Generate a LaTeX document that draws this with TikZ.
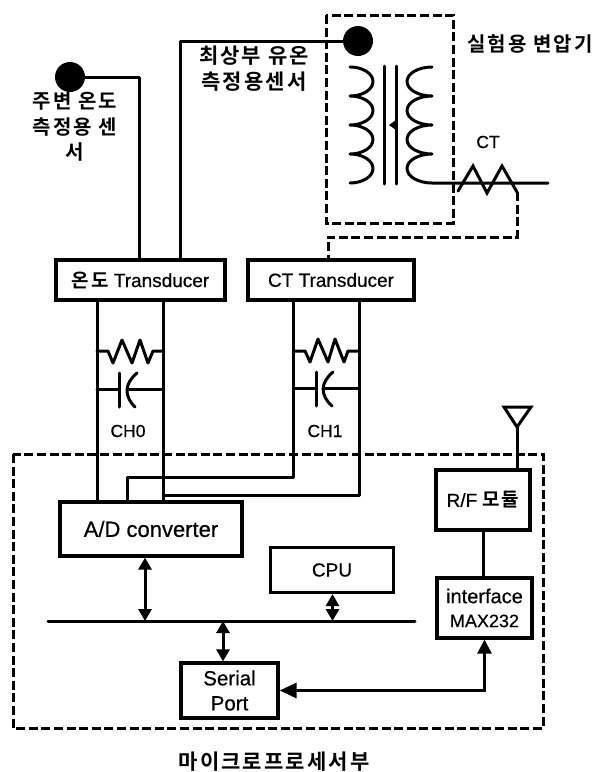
\documentclass[tikz,border=0pt]{standalone}
\usepackage{fontspec}
\setmainfont[RawFeature={embolden=0.5}]{Liberation Sans}
\newfontfamily\kr[BoldFont={Noto Sans CJK KR Bold},LetterSpace=10]{Noto Sans CJK KR}
\usetikzlibrary{arrows.meta}
\tikzset{
 wire/.style={line width=3pt,line join=round,line cap=round},
 dash box/.style={line width=3pt,dash pattern=on 9pt off 3.6pt},
 box/.style={draw,line width=3.2pt,inner sep=0pt,align=center,font=\fontsize{19}{25}\selectfont,text=black},
 label/.style={inner sep=0pt,align=center,font=\fontsize{17.5}{25}\selectfont},
 krlabel/.style={inner sep=0pt,align=center,font=\kr\bfseries\fontsize{20}{25.5}\selectfont},
 sensor/.style={circle,fill=black,inner sep=0pt,minimum size=30pt},
 both/.style={wire,line cap=butt,{Triangle[width=13pt,length=12pt]}-{Triangle[width=13pt,length=12pt]}},
 bigboth/.style={wire,line cap=butt,line join=miter,{Triangle[width=15pt,length=17pt]}-{Triangle[width=14pt,length=14pt]}},
}
\begin{document}
\begin{tikzpicture}[x=1pt,y=-1pt]
\useasboundingbox (0,0) rectangle (606,772);
% boxes
\node[box,minimum width=169pt,minimum height=40pt] (t1) at (140.5,280) {\kr\bfseries 온도\rmfamily\mdseries\ Transducer};
\node[box,minimum width=166pt,minimum height=40pt] (t2) at (331,280) {CT Transducer};
\node[box,minimum width=182pt,minimum height=54pt,font=\fontsize{22}{25}\selectfont] (ad) at (151,529) {A/D converter};
\node[box,minimum width=123pt,minimum height=45pt] (cpu) at (332,570) {CPU};
\node[box,minimum width=97pt,minimum height=55pt,font=\fontsize{20.5}{25}\selectfont] (ser) at (229.5,690.5) {Serial\hspace{9pt}\\Port};
\node[box,minimum width=94pt,minimum height=60pt] (rf) at (483,500) {R/F \kr\bfseries 모듈};
\node[box,minimum width=95pt,minimum height=60pt,font=\fontsize{19}{24}\selectfont] (max) at (484.5,608) {{\fontsize{20}{24}\selectfont interface}\\{\fontsize{18}{24}\selectfont MAX232}};
% sensors
\node[sensor] (s1) at (70,77) {};
\node[sensor] (s2) at (358,41) {};
% labels
\node[krlabel] (l1) at (75,127) {주변 온도\\측정용 센\\서};
\node[krlabel,font=\kr\bfseries\fontsize{21}{26}\selectfont] (l2) at (254,69) {최상부 유온\\측정용센서};
\node[krlabel] (l3) at (530,44) {실험용 변압기};
\node[label] (lct) at (488,142) {CT};
\node[label] (ch0) at (128,431) {CH0};
\node[label] (ch1) at (325,431) {CH1};
\node[krlabel,font=\kr\bfseries\fontsize{21}{26}\selectfont] (l4) at (274,762) {마이크로프로세서부};
% sensor wires
\coordinate (w1) at (139,260);
\coordinate (w2) at (180,260);
\draw[wire] (s1) -| (w1);
\draw[wire] (s2) -| (w2);
% transformer
\draw[dash box] (326,15) rectangle (453,223);
\coordinate (cl) at (350,67);
\coordinate (cr) at (432,67);
\draw[wire] (cl) arc[start angle=90,end angle=-90,x radius=23pt,y radius=14.5pt]
 arc[start angle=90,end angle=-90,x radius=23pt,y radius=14.5pt]
 arc[start angle=90,end angle=-90,x radius=23pt,y radius=14.5pt]
 arc[start angle=90,end angle=-90,x radius=23pt,y radius=14.5pt];
\draw[wire] (cr) arc[start angle=90,end angle=270,x radius=25pt,y radius=14.5pt]
 arc[start angle=90,end angle=270,x radius=25pt,y radius=14.5pt]
 arc[start angle=90,end angle=270,x radius=25pt,y radius=14.5pt]
 arc[start angle=90,end angle=270,x radius=25pt,y radius=14.5pt]
 -- (548,183);
\draw[wire] (384,66) -- (384,184);
\draw[wire] (396,66) -- (396,184);
\fill (389,125) -- (396,120) -- (396,130) -- cycle;
% CT
\draw[wire,line join=miter] (458,191) -- (473,166) -- (487,193) -- (502,166) -- (517,192);
\draw[dash box] (517,192) -- (517,237) -- (328,237) -- (328,260);
% channels
\draw[wire] (97,300) -- (97,501);
\draw[wire] (163.5,300) -- (163.5,501);
\draw[wire] (293.5,300) -- (293.5,477) -| (127,501);
\draw[wire] (359.5,300) -- (359.5,495) -- (163.5,495);
% RC 0
\draw[wire] (97,351) -- (108,351) -- (113,363) -- (122,340) -- (132,363) -- (140,340) -- (148,363) -- (153,351) -- (163.5,351);
\draw[wire] (97,389) -- (119,389);
\draw[wire] (119,373) -- (119,407);
\draw[wire] (137,373) .. controls (124,384) and (124,396) .. (135,407);
\draw[wire] (129,389) -- (163.5,389);
% RC 1
\draw[wire] (293.5,351) -- (305,351) -- (310,362) -- (318,339) -- (328,362) -- (335,339) -- (344,362) -- (348,351) -- (359.5,351);
\draw[wire] (293.5,388) -- (316,388);
\draw[wire] (316,372) -- (316,406);
\draw[wire] (333,372) .. controls (320,383) and (320,395) .. (332,406);
\draw[wire] (325,388) -- (359.5,388);
% main box
\draw[dash box] (13,454) rectangle (543,728);
% antenna
\coordinate (tip) at (517,427);
\draw[wire,line join=miter] (504,407) -- (531,407) -- (tip) -- cycle;
\draw[wire] (tip) -- (rf.north -| tip);
\draw[wire] (rf.south) -- (max.north -| rf.south);
% bus
\coordinate (busl) at (48,621);
\coordinate (busr) at (415,621);
\draw[wire] (busl) -- (busr);
\coordinate (b1) at (145,621);
\coordinate (b2) at (332.5,621);
\coordinate (b3) at (223,621);
\draw[both] (b1) -- (ad.south -| b1);
\draw[both] (b2) -- (cpu.south -| b2);
\draw[both] (b3) -- (ser.north -| b3);
\draw[bigboth] (ser.east) -| (max.south);
\end{tikzpicture}
\end{document}
